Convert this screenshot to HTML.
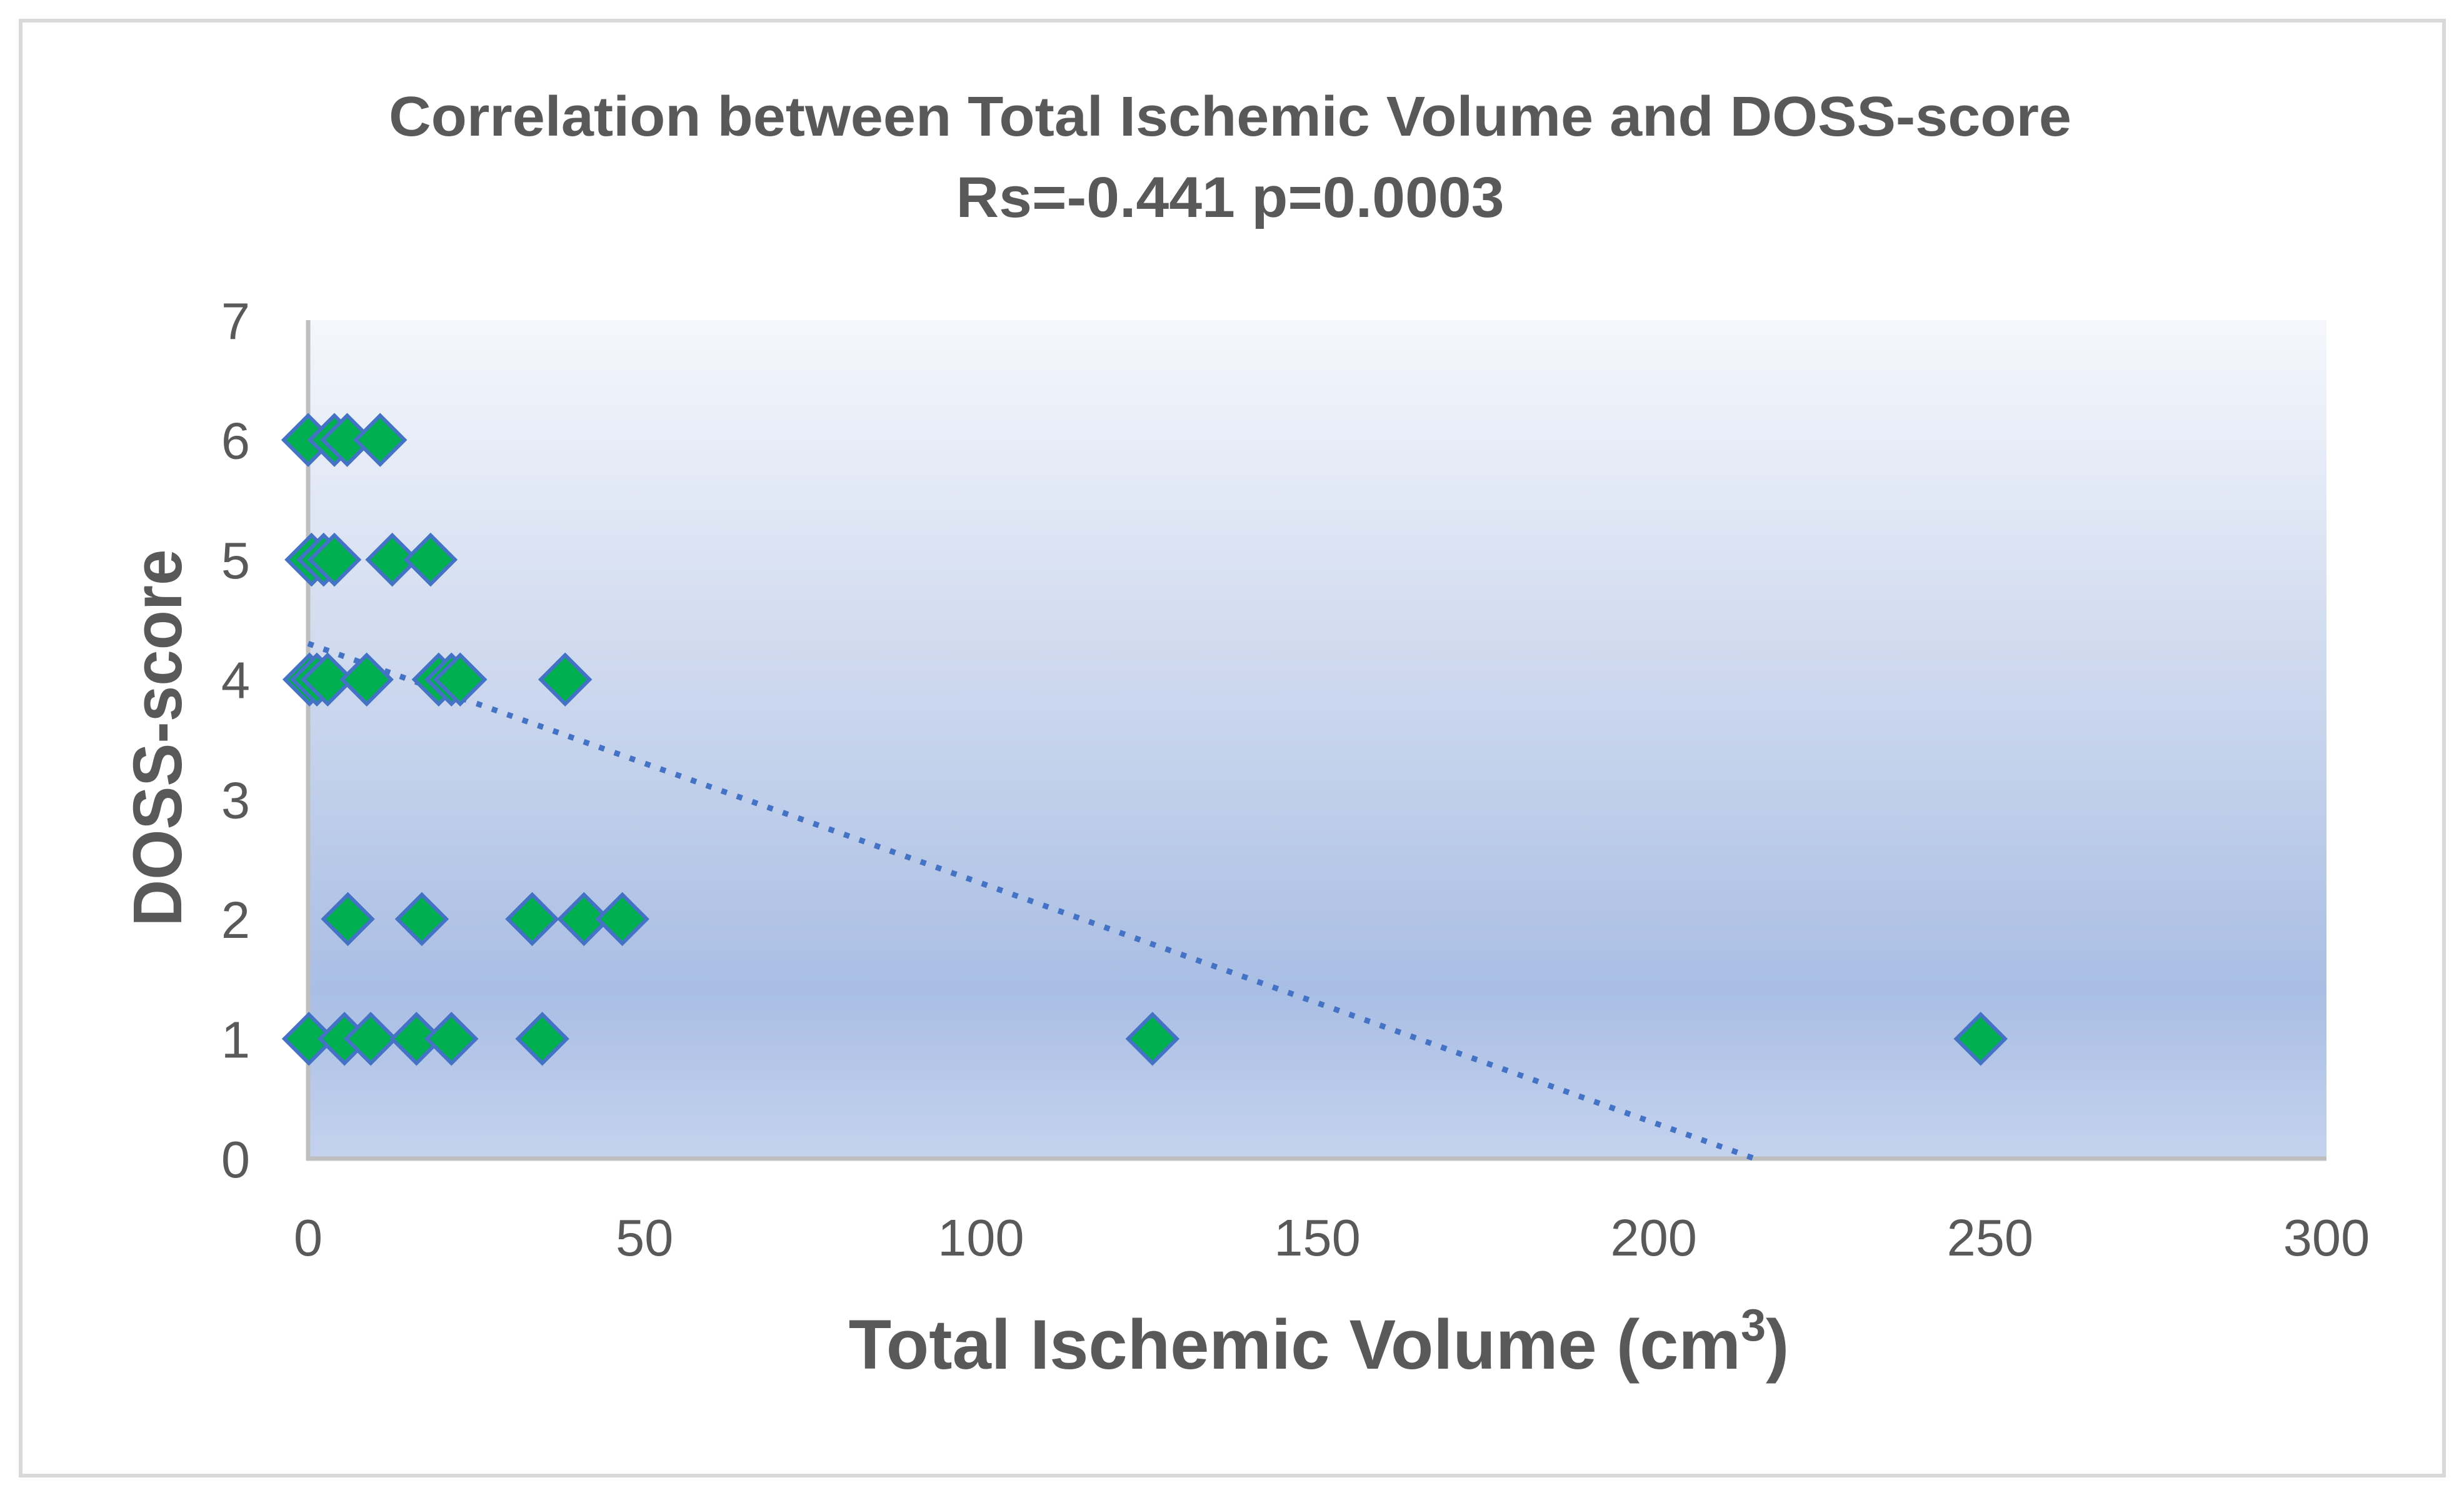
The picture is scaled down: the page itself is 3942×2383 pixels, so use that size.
<!DOCTYPE html>
<html><head><meta charset="utf-8">
<style>html,body{margin:0;padding:0;background:#fff}svg{display:block}</style>
</head><body>
<svg id="chart" width="3942" height="2383" viewBox="0 0 3942 2383" xmlns="http://www.w3.org/2000/svg" font-family="'Liberation Sans', sans-serif">
<defs>
<linearGradient id="bg" x1="0" y1="0" x2="0" y2="1">
<stop offset="0" stop-color="#f5f7fc"/>
<stop offset="0.5" stop-color="#c6d3ec"/>
<stop offset="0.8" stop-color="#a9bee4"/>
<stop offset="1" stop-color="#c4d2ee"/>
</linearGradient>
</defs>
<rect x="33" y="33" width="3877" height="2327" fill="#fff" stroke="#d9d9d9" stroke-width="6"/>
<text x="1968" y="217" text-anchor="middle" font-size="90" font-weight="bold" fill="#595959" textLength="2692" lengthAdjust="spacingAndGlyphs">Correlation between Total Ischemic Volume and DOSS-score</text>
<text x="1968" y="347" text-anchor="middle" font-size="92" font-weight="bold" fill="#595959" textLength="877" lengthAdjust="spacingAndGlyphs">Rs=-0.441 p=0.0003</text>
<rect x="493" y="512" width="3229" height="1341" fill="url(#bg)"/>
<g id="axes"></g>
<g id="trend"></g>
<g id="points"></g>
<text x="2110" y="2189" text-anchor="middle" font-size="112" font-weight="bold" fill="#595959">Total Ischemic Volume (cm<tspan font-size="72" dy="-45">3</tspan><tspan dy="45">)</tspan></text>
<text transform="translate(290,1180) rotate(-90)" text-anchor="middle" font-size="110" font-weight="bold" fill="#595959" textLength="603" lengthAdjust="spacingAndGlyphs">DOSS-score</text>
</svg>
<script>
const xTicks = [0, 50, 100, 150, 200, 250, 300];
const yTicks = [0, 1, 2, 3, 4, 5, 6, 7];
const xValues = [0, 3.9, 5.8, 10.7, 0.5, 2.3, 3.9, 12.5, 18.2, 0.2, 1.3, 2.9, 8.7, 19.4, 21.3, 22.6, 38.2, 5.9, 16.9, 33.3, 41, 46.7, 0.1, 5.4, 9.3, 16.1, 21.3, 34.8, 125.5, 248.6];
const yValues = [6, 6, 6, 6, 5, 5, 5, 5, 5, 4, 4, 4, 4, 4, 4, 4, 4, 2, 2, 2, 2, 2, 1, 1, 1, 1, 1, 1, 1, 1];
const trendX = [0, 215];
const trendY = [4.3, 0];

const NS = 'http://www.w3.org/2000/svg';
const X0 = 493, X1 = 3722, Y0 = 1853, Y1 = 512;
const sx = v => X0 + (v - 0) / 300 * (X1 - X0);
const sy = v => Y0 - (v - 0) / 7 * (Y0 - Y1);
function mk(tag, attrs, parent) {
  const e = document.createElementNS(NS, tag);
  for (const k in attrs) e.setAttribute(k, attrs[k]);
  parent.appendChild(e);
  return e;
}
const axes = document.getElementById('axes');
yTicks.forEach(t => {
  const e = mk('text', {x: 377, y: sy(t) + 30, 'text-anchor': 'middle', 'font-size': 83, fill: '#595959'}, axes);
  
  
  e.textContent = t;
});
xTicks.forEach(t => {
  const e = mk('text', {x: sx(t), y: 2008, 'text-anchor': 'middle', 'font-size': 83, fill: '#595959'}, axes);
  
  
  e.textContent = t;
});
const va = mk('line', {x1: X0, y1: Y1, x2: X0, y2: Y0 + 3, stroke: '#bfbfbf', 'stroke-width': 7}, axes);


const ha = mk('line', {x1: X0 - 3, y1: Y0, x2: X1, y2: Y0, stroke: '#bfbfbf', 'stroke-width': 7}, axes);



const tr = mk('line', {x1: sx(trendX[0]), y1: sy(trendY[0]), x2: sx(trendX[1]), y2: sy(trendY[1]), stroke: '#4472c4', 'stroke-width': 9, 'stroke-dasharray': '9 17'}, document.getElementById('trend'));



const pts = document.getElementById('points');
xValues.forEach((xv, i) => {
  const cx = sx(xv), cy = sy(yValues[i]), r = 39;
  const p = mk('polygon', {points: `${cx},${cy - r} ${cx + r},${cy} ${cx},${cy + r} ${cx - r},${cy}`, fill: '#00b050', stroke: '#4472c4', 'stroke-width': 6}, pts);
  
  
});
</script>
</body></html>
